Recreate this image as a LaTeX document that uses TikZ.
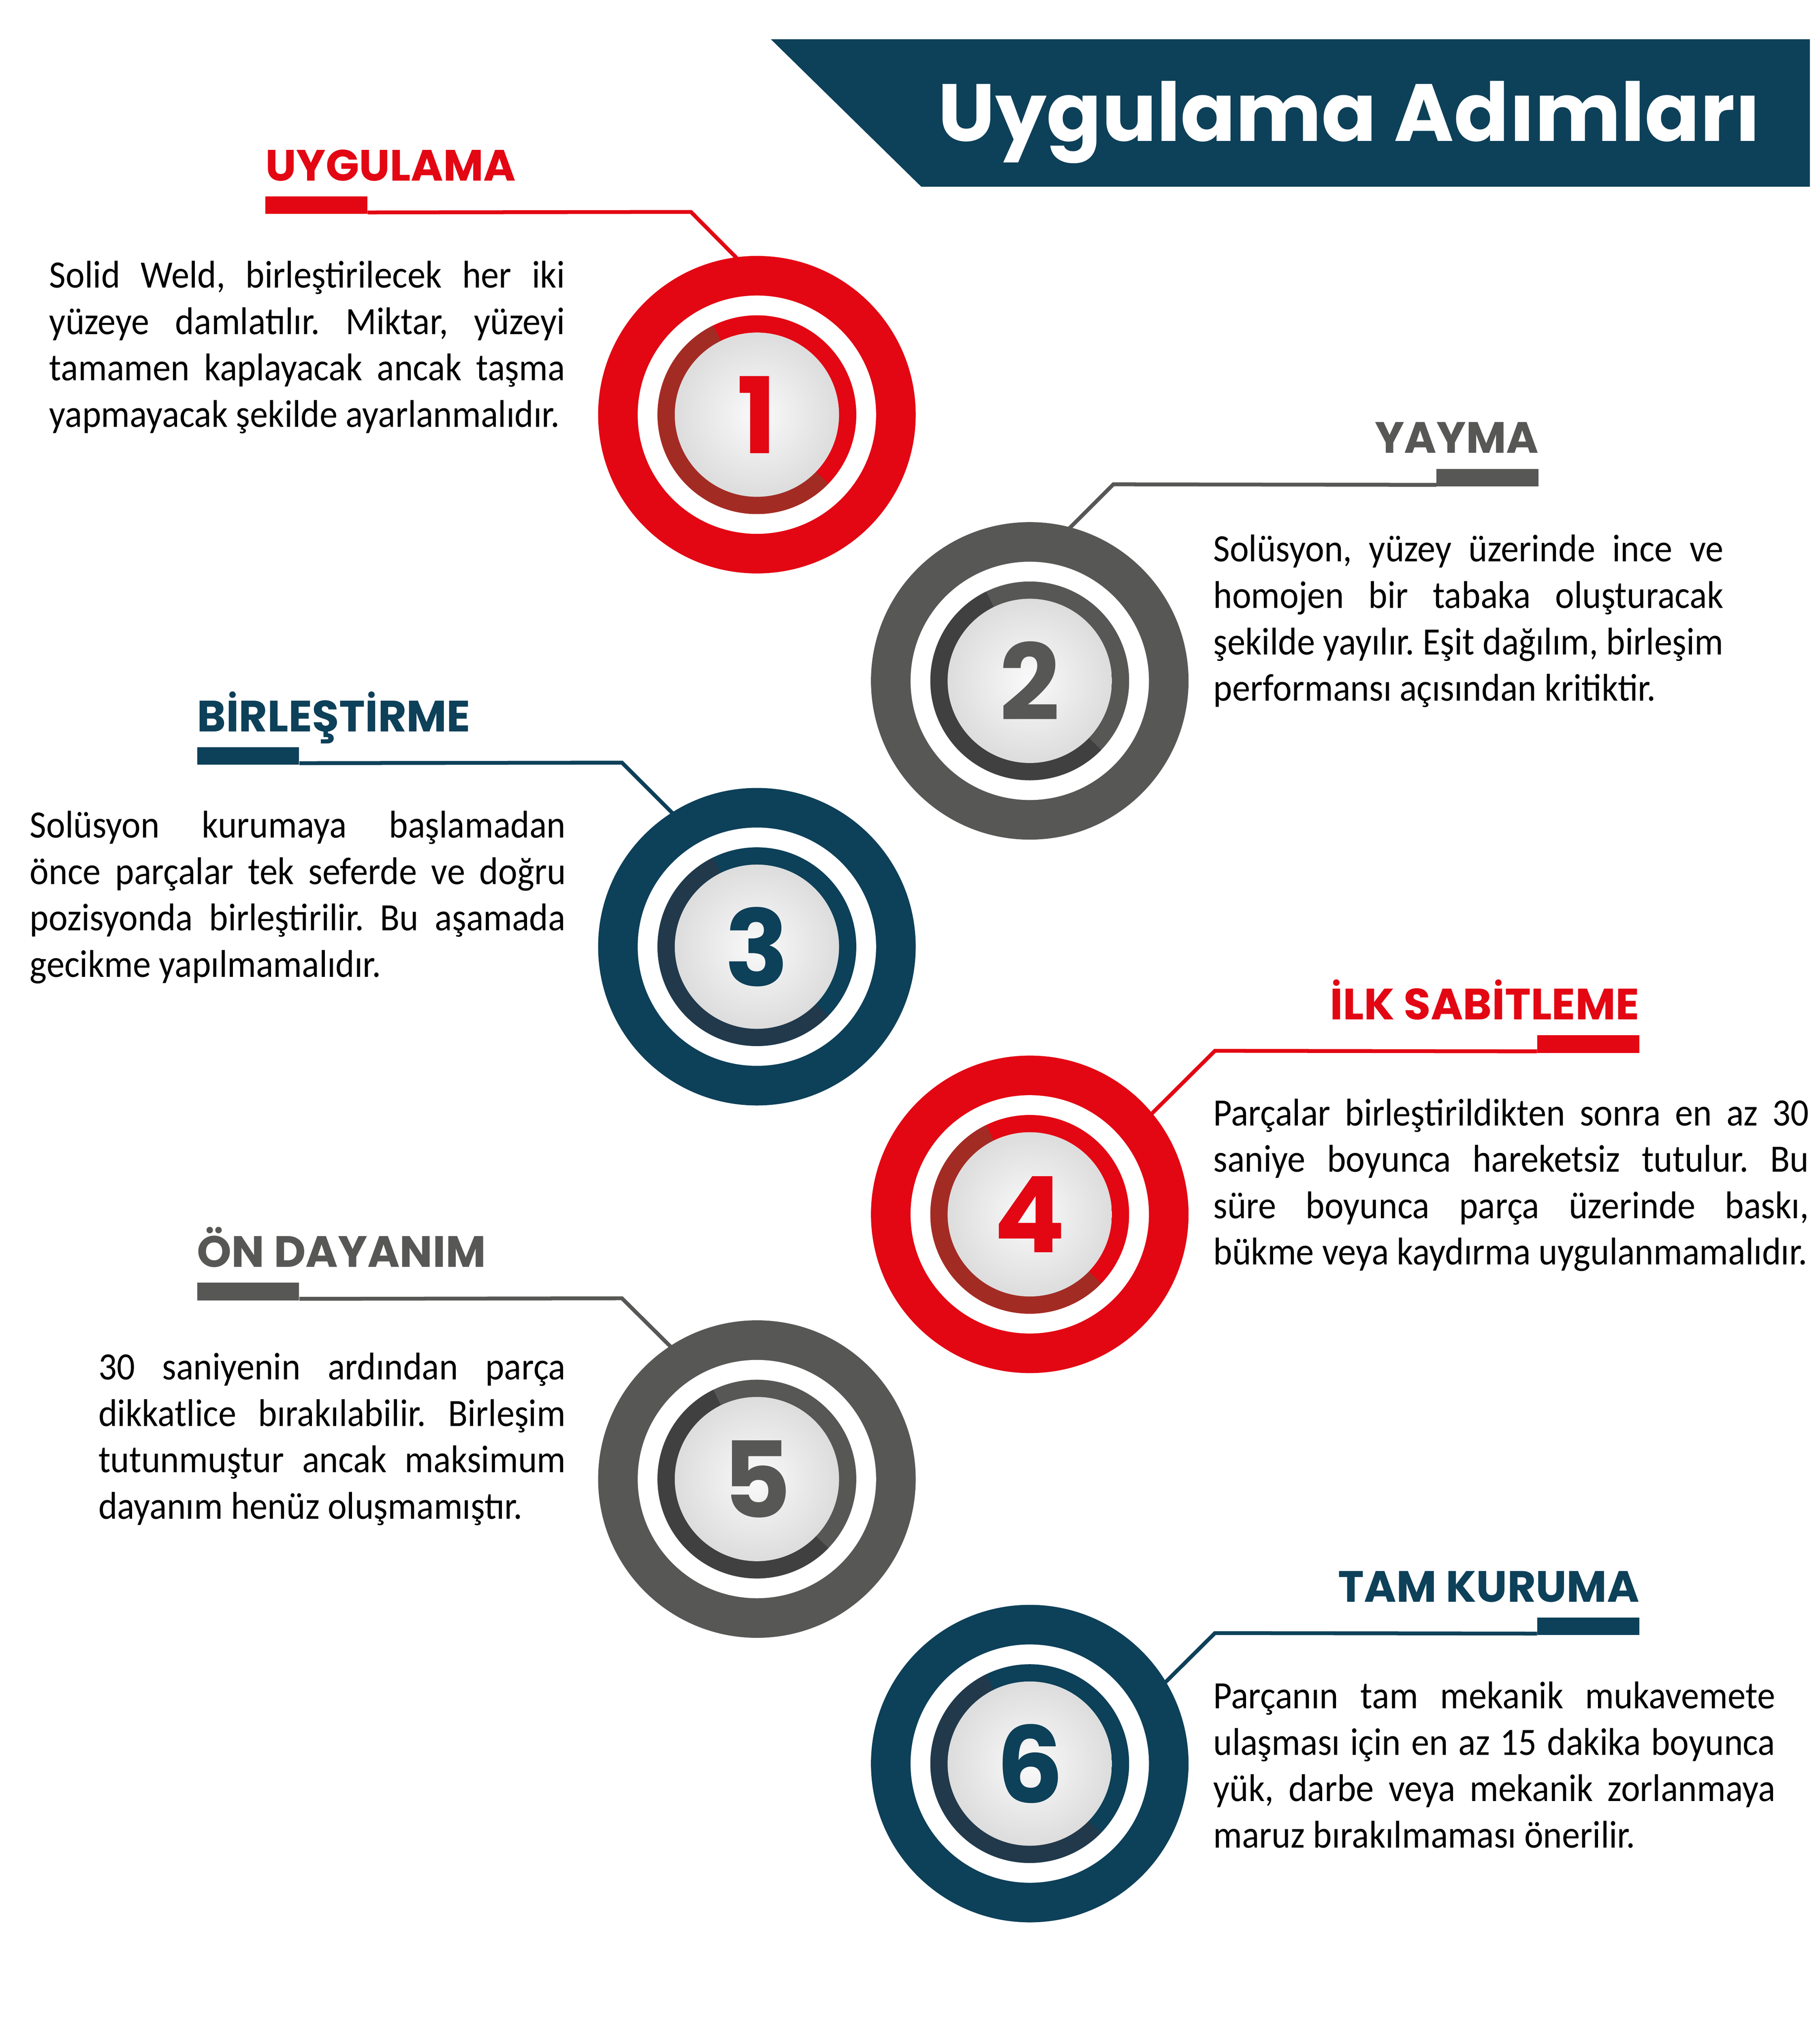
\documentclass[tikz,border=0pt]{standalone}
\usepackage{fontspec}
\setmainfont{Carlito}
\newfontfamily\bodyfont{Carlito}[FakeStretch=0.93]
\newfontfamily\headfont{Poppins}
\usetikzlibrary{positioning}

\definecolor{stepred}{HTML}{E30613}
\definecolor{stepredd}{HTML}{A22C24}
\definecolor{stepgray}{HTML}{575756}
\definecolor{stepgrayd}{HTML}{404040}
\definecolor{stepblue}{HTML}{0D4059}
\definecolor{stepblued}{HTML}{21394B}
\pgfdeclareradialshading{ballshade}{\pgfpointorigin}{color(0bp)=(black!2); color(50bp)=(black!25)}

\begin{document}
\frenchspacing
\hyphenpenalty=10000 \exhyphenpenalty=10000 \tolerance=10000
\begin{tikzpicture}[
    disc/.style={circle, minimum size=8.66cm, inner sep=0pt},
    bar/.style={minimum width=2.78cm, minimum height=0.48cm, inner sep=0pt},
    link/.style={line width=0.105cm},
    head/.style={font=\headfont\bfseries\fontsize{34}{40}\selectfont, inner sep=0pt},
    body/.style={font=\bodyfont\fontsize{30}{36}\selectfont, inner sep=0pt, align=justify},
    num/.style={font=\headfont\bfseries\fontsize{82}{90}\selectfont, inner sep=0pt}]
    \useasboundingbox (0, 0) rectangle (49.62, -55.23);

    % baslik
    \fill[stepblue] (21.02, -1.07) -- (49.35, -1.07) -- (49.35, -5.09) -- (25.12, -5.09) -- cycle;
    \node[font=\headfont\bfseries\fontsize{63}{70}\selectfont, text=white, anchor=base, inner sep=0pt] (title) at (36.80, -3.85) {Uygulama Adımları};

    % etiketler
    \node[bar, fill=stepred, anchor=north west] (b1) at (7.23, -5.35) {};
    \node[bar, fill=stepgray, anchor=north east] (b2) at (41.96, -12.78) {};
    \node[bar, fill=stepblue, anchor=north west] (b3) at (5.37, -20.37) {};
    \node[bar, fill=stepred, anchor=north east] (b4) at (44.71, -28.23) {};
    \node[bar, fill=stepgray, anchor=north west] (b5) at (5.37, -34.98) {};
    \node[bar, fill=stepblue, anchor=north east] (b6) at (44.71, -44.11) {};

    \node[head, text=stepred, above=0.42cm of b1.north west, anchor=base west] (h1) {UYGULAMA};
    \node[head, text=stepgray, above=0.42cm of b2.north east, anchor=base east] (h2) {YAYMA};
    \node[head, text=stepblue, above=0.42cm of b3.north west, anchor=base west] (h3) {BİRLEŞTİRME};
    \node[head, text=stepred, above=0.42cm of b4.north east, anchor=base east] (h4) {İLK SABİTLEME};
    \node[head, text=stepgray, above=0.42cm of b5.north west, anchor=base west] (h5) {ÖN DAYANIM};
    \node[head, text=stepblue, above=0.42cm of b6.north east, anchor=base east] (h6) {TAM KURUMA};

    % baglantilar
    \coordinate (k1) at (18.84, -5.78);
    \coordinate (e1) at (20.17, -7.12);
    \coordinate (k2) at (30.36, -13.21);
    \coordinate (e2) at (29.09, -14.48);
    \coordinate (k3) at (16.96, -20.80);
    \coordinate (e3) at (18.42, -22.26);
    \coordinate (k4) at (33.13, -28.66);
    \coordinate (e4) at (31.32, -30.46);
    \coordinate (k5) at (16.96, -35.41);
    \coordinate (e5) at (18.37, -36.81);
    \coordinate (k6) at (33.13, -44.54);
    \coordinate (e6) at (31.69, -45.97);
    \draw[link, stepred] ([yshift=0.05cm]b1.south east) -- (k1) -- (e1);
    \draw[link, stepgray] ([yshift=0.05cm]b2.south west) -- (k2) -- (e2);
    \draw[link, stepblue] ([yshift=0.05cm]b3.south east) -- (k3) -- (e3);
    \draw[link, stepred] ([yshift=0.05cm]b4.south west) -- (k4) -- (e4);
    \draw[link, stepgray] ([yshift=0.05cm]b5.south east) -- (k5) -- (e5);
    \draw[link, stepblue] ([yshift=0.05cm]b6.south west) -- (k6) -- (e6);

    % halkalar
    \node[disc, fill=stepred] (s1) at (20.64, -11.31) {};
    \fill[white] (s1) circle (3.25);
    \fill[stepred] (s1) circle (2.71);
    \fill[stepredd] (s1.center) -- ++(116:2.71) arc (116:316:2.71) -- cycle;
    \shade[shading=ballshade] (s1) circle (2.24);
    \node[num, text=stepred] (n1) at (s1) {1};

    \node[disc, fill=stepgray] (s2) at (28.08, -18.57) {};
    \fill[white] (s2) circle (3.25);
    \fill[stepgray] (s2) circle (2.71);
    \fill[stepgrayd] (s2.center) -- ++(116:2.71) arc (116:316:2.71) -- cycle;
    \shade[shading=ballshade] (s2) circle (2.24);
    \node[num, text=stepgray] (n2) at (s2) {2};

    \node[disc, fill=stepblue] (s3) at (20.64, -25.82) {};
    \fill[white] (s3) circle (3.25);
    \fill[stepblue] (s3) circle (2.71);
    \fill[stepblued] (s3.center) -- ++(116:2.71) arc (116:316:2.71) -- cycle;
    \shade[shading=ballshade] (s3) circle (2.24);
    \node[num, text=stepblue] (n3) at (s3) {3};

    \node[disc, fill=stepred] (s4) at (28.08, -33.12) {};
    \fill[white] (s4) circle (3.25);
    \fill[stepred] (s4) circle (2.71);
    \fill[stepredd] (s4.center) -- ++(116:2.71) arc (116:316:2.71) -- cycle;
    \shade[shading=ballshade] (s4) circle (2.24);
    \node[num, text=stepred] (n4) at (s4) {4};

    \node[disc, fill=stepgray] (s5) at (20.64, -40.34) {};
    \fill[white] (s5) circle (3.25);
    \fill[stepgray] (s5) circle (2.71);
    \fill[stepgrayd] (s5.center) -- ++(116:2.71) arc (116:316:2.71) -- cycle;
    \shade[shading=ballshade] (s5) circle (2.24);
    \node[num, text=stepgray] (n5) at (s5) {5};

    \node[disc, fill=stepblue] (s6) at (28.08, -48.10) {};
    \fill[white] (s6) circle (3.25);
    \fill[stepblue] (s6) circle (2.71);
    \fill[stepblued] (s6.center) -- ++(116:2.71) arc (116:316:2.71) -- cycle;
    \shade[shading=ballshade] (s6) circle (2.24);
    \node[num, text=stepblue] (n6) at (s6) {6};

    % metinler
    \node[body, text width=14.06cm, anchor=base west] (t1) at (1.34, -7.85) {Solid Weld, birleştirilecek her iki\linebreak yüzeye damlatılır. Miktar, yüzeyi\linebreak tamamen kaplayacak ancak taşma\linebreak yapmayacak şekilde ayarlanmalıdır.};
    \node[body, text width=13.91cm, anchor=base west] (t2) at (33.08, -15.32) {Solüsyon, yüzey üzerinde ince ve\linebreak homojen bir tabaka oluşturacak\linebreak şekilde yayılır. Eşit dağılım, birleşim\linebreak performansı açısından kritiktir.};
    \node[body, text width=14.61cm, anchor=base west] (t3) at (0.81, -22.85) {Solüsyon kurumaya başlamadan\linebreak önce parçalar tek seferde ve doğru\linebreak pozisyonda birleştirilir. Bu aşamada\linebreak gecikme yapılmamalıdır.};
    \node[body, text width=16.24cm, anchor=base west] (t4) at (33.08, -30.70) {Parçalar birleştirildikten sonra en az 30\linebreak saniye boyunca hareketsiz tutulur. Bu\linebreak süre boyunca parça üzerinde baskı,\linebreak bükme veya kaydırma uygulanmamalıdır.};
    \node[body, text width=12.74cm, anchor=base west] (t5) at (2.68, -37.63) {30 saniyenin ardından parça\linebreak dikkatlice bırakılabilir. Birleşim\linebreak tutunmuştur ancak maksimum\linebreak dayanım henüz oluşmamıştır.};
    \node[body, text width=15.32cm, anchor=base west] (t6) at (33.08, -46.60) {Parçanın tam mekanik mukavemete\linebreak ulaşması için en az 15 dakika boyunca\linebreak yük, darbe veya mekanik zorlanmaya\linebreak maruz bırakılmaması önerilir.};
\end{tikzpicture}
\end{document}
